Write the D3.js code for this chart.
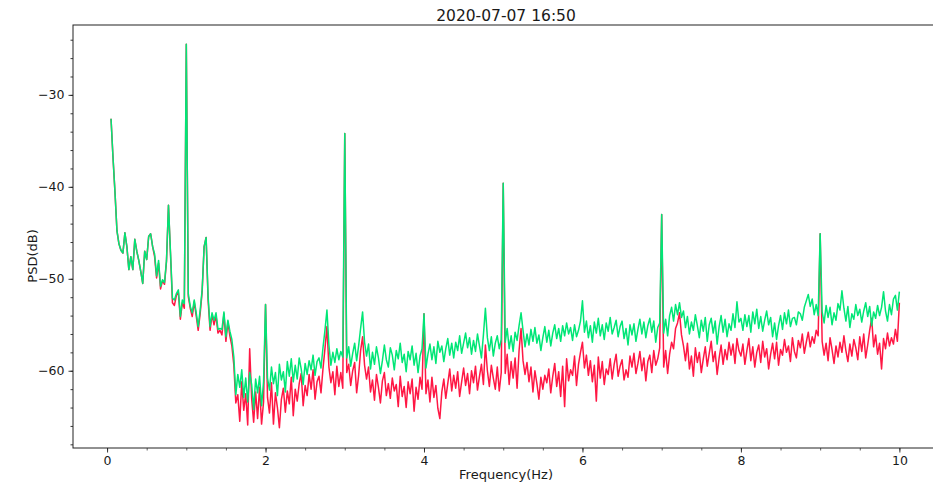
<!DOCTYPE html>
<html>
<head>
<meta charset="utf-8">
<script src="https://cdn.jsdelivr.net/npm/d3@7"></script>
<style>
  body { margin: 0; background: #fff; }
  svg { display: block; font-family: "DejaVu Sans", sans-serif; }
</style>
</head>
<body>
<svg id="chart" width="933" height="485"></svg>
<script>
// Power spectral density of two channels, 0.05–10 Hz in 0.025 Hz bins
const chartTitle = "2020-07-07 16:50";
const xLabel = "Frequency(Hz)";
const yLabel = "PSD(dB)";
const freqStart = 0.05;
const freqStep = 0.025;

const xTicks = [0, 2, 4, 6, 8, 10];
const yTicks = [-60, -50, -40, -30];

// green channel (dB)
const psdGreen = [
  // 0.05 – 0.975 Hz
  -32.6, -36.8, -40.6, -44.8, -46.2, -46.9, -47.2, -45.0, -46.5, -49.0, -47.6, -49.0, -45.7, -47.0, -48.0, -49.2, -50.5, -47.0, -47.9, -45.4,
  -45.1, -46.5, -47.3, -49.7, -48.0, -50.8, -50.1, -50.4, -48.0, -42.0, -47.0, -52.1, -52.3, -51.6, -51.2, -54.1, -52.3, -52.7,
  // 1.0 – 1.975 Hz
  -24.5, -51.6, -53.0, -53.7, -52.3, -53.7, -55.2, -53.4, -51.2, -46.5, -45.5, -51.9, -55.2, -53.7, -54.5, -53.7, -55.5, -55.4, -55.5, -53.6,
  -56.3, -54.5, -55.7, -56.6, -58.5, -62.6, -60.4, -61.8, -59.9, -62.9, -60.8, -63.4, -60.2, -61.5, -64.2, -60.9, -62.4, -60.6, -63.8, -61.2,
  // 2.0 – 2.975 Hz
  -52.8, -60.8, -62.1, -59.6, -61.4, -60.2, -62.7, -59.3, -61.0, -60.1, -62.3, -59.0, -60.6, -58.7, -61.2, -59.4, -60.9, -58.6, -59.8, -61.5,
  -59.2, -60.4, -58.9, -59.9, -58.3, -60.5, -59.0, -58.6, -59.7, -57.5, -55.6, -53.4, -57.2, -59.4, -58.0, -59.1, -57.6, -58.8, -57.9, -58.5,
  // 3.0 – 3.975 Hz
  -34.2, -58.6, -57.4, -59.5, -58.1, -57.0, -58.9, -57.3, -55.4, -53.6, -56.9, -58.4, -57.1, -59.8, -58.0, -59.3, -57.4, -58.6, -60.3, -58.9,
  -57.2, -58.8, -59.6, -57.5, -58.3, -59.9, -57.8, -58.7, -57.0, -59.1, -58.2, -60.1, -57.9, -58.8, -57.3, -59.4, -58.1, -60.2, -58.4, -57.6,
  // 4.0 – 4.975 Hz
  -53.8, -59.7, -58.2, -57.1, -58.8, -57.4, -59.2, -56.8, -58.0, -57.3, -59.0, -57.6, -56.5, -58.3, -57.0, -58.6, -56.9, -57.8, -56.2, -58.1,
  -57.0, -55.9, -57.5, -56.4, -58.2, -56.7, -57.9, -56.0, -57.3, -58.6, -56.1, -53.2, -56.4, -57.8, -56.3, -58.4, -57.0, -56.2, -57.6, -56.6,
  // 5.0 – 5.975 Hz
  -39.6, -56.9, -55.4, -57.6, -56.2, -57.9, -55.8, -56.7, -55.1, -53.7, -55.6, -57.4, -56.0, -57.2, -55.5, -56.8, -55.3, -57.0, -56.1, -57.8,
  -56.4, -55.2, -56.9, -55.6, -57.3, -55.9, -55.0, -56.5, -55.4, -56.8, -55.1, -56.2, -54.8, -56.0, -55.3, -56.7, -55.0, -56.3, -55.6, -54.6,
  // 6.0 – 6.975 Hz
  -52.4, -55.8, -54.6, -56.4, -55.1, -56.9, -54.7, -55.9, -54.3, -56.2, -55.0, -56.6, -54.8, -55.7, -54.2, -56.0, -55.3, -54.5, -56.3, -55.2,
  -54.6, -56.5, -55.4, -57.2, -55.0, -56.1, -54.9, -56.8, -55.5, -54.4, -56.0, -54.7, -56.4, -55.1, -54.3, -55.8, -54.6, -56.9, -55.3, -54.8,
  // 7.0 – 7.975 Hz
  -43.0, -55.9, -54.4, -56.2, -54.0, -53.1, -54.6, -52.8, -53.9, -52.6, -54.2, -53.5, -55.3, -54.1, -56.0, -54.7, -55.6, -53.9, -55.1, -56.4,
  -54.5, -55.7, -54.2, -56.8, -55.0, -54.3, -55.9, -54.6, -57.1, -55.2, -54.0, -55.8, -54.4, -56.3, -54.9, -55.6, -53.8, -55.3, -52.5, -54.7,
  // 8.0 – 8.975 Hz
  -54.3, -55.6, -53.9, -55.2, -54.0, -55.8, -53.6, -54.9, -53.3, -55.4, -54.1, -55.7, -54.5, -53.5, -55.0, -54.2, -56.3, -54.8, -56.6, -55.1,
  -54.0, -55.5, -53.7, -54.9, -53.4, -55.2, -54.3, -54.2, -55.0, -53.6, -53.8, -54.5, -53.1, -52.4, -51.7, -53.0, -52.2, -53.9, -52.8, -54.0,
  // 9.0 – 10.0 Hz
  -45.1, -53.6, -54.8, -52.9, -54.2, -53.1, -55.0, -53.7, -54.5, -52.7, -53.4, -51.3, -53.2, -54.6, -53.0, -55.3, -53.8, -54.4, -52.8, -54.0,
  -53.3, -54.7, -53.5, -52.6, -54.1, -53.0, -55.1, -53.6, -54.3, -52.9, -54.0, -53.1, -51.4, -53.5, -54.6, -52.8, -53.9, -52.2, -51.8, -53.4,
  -51.4
];

// red channel (dB)
const psdRed = [
  // 0.05 – 0.975 Hz
  -32.6, -36.8, -40.6, -44.8, -46.2, -46.9, -47.2, -45.0, -46.5, -49.0, -47.6, -49.0, -45.7, -47.0, -48.0, -49.2, -50.5, -47.0, -47.9, -45.4,
  -45.1, -46.5, -47.6, -49.9, -48.3, -51.1, -50.2, -50.6, -48.1, -42.0, -47.2, -52.6, -52.9, -51.8, -51.5, -54.4, -52.6, -53.2,
  // 1.0 – 1.975 Hz
  -24.5, -51.9, -53.2, -54.1, -52.5, -54.0, -55.6, -53.8, -51.4, -46.5, -45.5, -52.3, -55.6, -53.9, -55.0, -54.0, -55.9, -55.6, -56.1, -53.8,
  -56.8, -54.7, -56.2, -57.3, -59.4, -63.5, -62.6, -65.5, -61.2, -64.3, -62.5, -65.9, -57.6, -63.0, -65.6, -62.3, -65.2, -61.8, -65.8, -63.4,
  // 2.0 – 2.975 Hz
  -52.8, -62.9, -64.6, -61.3, -65.8, -62.4, -64.0, -66.2, -63.1, -61.9, -64.5, -62.2, -63.6, -60.7, -64.9, -62.0, -63.3, -61.4, -60.3, -63.8,
  -61.6, -62.7, -60.4, -62.0, -59.9, -63.1, -61.2, -60.6, -62.4, -59.8, -57.6, -55.2, -59.6, -61.3, -60.1, -62.6, -59.5, -61.7, -60.2, -61.9,
  // 3.0 – 3.975 Hz
  -34.2, -60.2, -59.3, -61.6, -60.0, -59.1, -62.4, -60.5, -57.8, -56.3, -59.4, -60.9, -59.6, -62.3, -61.0, -63.2, -60.4, -61.8, -63.5, -61.1,
  -60.2, -62.7, -61.4, -63.0, -60.8, -62.2, -61.5, -63.9, -60.6, -62.8, -61.7, -64.0, -61.2, -62.5, -60.9, -64.4, -61.8, -63.1, -60.7, -62.0,
  // 4.0 – 4.975 Hz
  -53.8, -62.5, -61.0, -63.4, -60.7, -62.9, -61.6, -64.1, -65.2, -62.3, -60.9, -63.0, -61.4, -59.8, -62.2, -60.5, -61.9, -60.1, -62.8, -61.2,
  -59.7, -61.6, -60.3, -62.5, -60.0, -61.3, -59.5, -62.1, -60.6, -59.3, -61.5, -57.2, -60.0, -61.7, -59.4, -60.8, -62.0, -59.6, -62.2, -60.2,
  // 5.0 – 5.975 Hz
  -39.6, -60.3, -58.2, -61.5, -59.0, -60.8, -58.6, -61.9, -57.8, -55.4, -58.9, -60.4, -59.1, -61.2, -59.6, -62.3, -60.0, -61.4, -63.1, -60.7,
  -62.0, -60.5, -61.3, -59.8, -62.4, -60.6, -59.2, -61.7, -60.1, -62.8, -59.5, -63.9, -58.7, -61.1, -59.9, -60.5, -58.4, -61.6, -59.3, -58.0,
  // 6.0 – 6.975 Hz
  -56.9, -59.7, -58.3, -60.5, -58.9, -61.2, -59.4, -63.3, -58.5, -60.8, -59.0, -61.5, -59.8, -60.4, -58.7, -60.9, -59.3, -58.2, -60.6, -59.5,
  -58.8, -61.0, -59.9, -60.7, -58.4, -59.6, -58.1, -60.3, -59.2, -57.9, -60.0, -58.6, -61.1, -59.0, -58.3, -60.2, -57.8, -59.4, -58.7, -57.5,
  // 7.0 – 7.975 Hz
  -43.0, -59.6, -57.8, -60.3, -58.2, -56.9, -57.6, -55.4, -54.8, -53.7, -56.1, -57.3, -58.9, -57.0, -59.8, -58.4, -60.6, -57.5, -59.1, -58.0,
  -60.2, -58.7, -57.4, -59.5, -58.1, -56.8, -59.0, -57.9, -60.4, -58.6, -57.2, -59.3, -57.7, -58.8, -56.9, -58.3, -57.1, -59.2, -56.5, -57.8,
  // 8.0 – 8.975 Hz
  -58.4, -57.1, -59.3, -57.8, -56.5, -58.9, -57.4, -59.6, -58.0, -57.2, -59.1, -56.8, -58.5, -57.6, -59.8, -58.2, -57.0, -58.7, -56.9, -59.4,
  -57.7, -58.3, -56.6, -58.0, -57.3, -59.0, -56.4, -57.9, -58.6, -56.7, -57.5, -56.0, -58.1, -56.9, -55.8, -57.4, -56.3, -57.0, -55.6, -56.2,
  // 9.0 – 10.0 Hz
  -45.1, -56.8, -58.3, -57.0, -58.9, -56.4, -57.7, -59.2, -57.3, -58.5, -56.9, -58.0, -56.2, -57.8, -59.0, -57.1, -58.4, -56.6, -57.5, -58.8,
  -56.3, -57.9, -56.0, -58.6, -57.2, -55.6, -54.3, -57.4, -56.1, -58.2, -57.0, -59.8, -56.5, -57.6, -55.9, -57.3, -56.4, -57.1, -55.5, -56.8,
  -52.6
];

const colorGreen = "#00e676";
const colorRed = "#ff1744";

const svg = d3.select("#chart");
const plot = { left: 73, right: 939, top: 25, bottom: 448 };

const x = d3.scaleLinear().domain([-0.43, 10.5]).range([plot.left, plot.right]);
const y = d3.scaleLinear().domain([-68.4, -22.4]).range([plot.bottom, plot.top]);

svg.append("rect").attr("width", 933).attr("height", 485).attr("fill", "#fff");

svg.append("defs").append("clipPath").attr("id", "plotClip")
  .append("rect")
  .attr("x", plot.left).attr("y", plot.top)
  .attr("width", plot.right - plot.left).attr("height", plot.bottom - plot.top);

const freqOf = i => freqStart + i * freqStep;
const line = d3.line()
  .x((d, i) => x(freqOf(i)))
  .y(d => y(d));

const lines = svg.append("g").attr("clip-path", "url(#plotClip)");
lines.append("path").datum(psdRed)
  .attr("d", line).attr("fill", "none")
  .attr("stroke", colorRed).attr("stroke-width", 1.5).attr("stroke-linejoin", "round");
lines.append("path").datum(psdGreen)
  .attr("d", line).attr("fill", "none")
  .attr("stroke", colorGreen).attr("stroke-width", 1.5).attr("stroke-linejoin", "round");

// axes: major ticks with labels, minor ticks without
const axisColor = "#222";
const xMinor = d3.range(0, 10.5 + 1e-9, 0.5);
const yMinor = d3.range(-68, -22, 2);

const gx = svg.append("g").attr("transform", `translate(0,${plot.bottom})`);
gx.call(d3.axisBottom(x).tickValues(xMinor).tickSize(2.5).tickFormat(""));
gx.call(g => g.selectAll(".tick").attr("class", "minor"));
gx.append("g").call(d3.axisBottom(x).tickValues(xTicks).tickSize(4.5).tickPadding(4).tickFormat(d3.format("d")));

const gy = svg.append("g").attr("transform", `translate(${plot.left},0)`);
gy.call(d3.axisLeft(y).tickValues(yMinor).tickSize(2.5).tickFormat(""));
gy.append("g").call(d3.axisLeft(y).tickValues(yTicks).tickSize(4.5).tickPadding(4).tickFormat(d3.format("d")));

svg.selectAll(".domain").remove();
svg.selectAll(".tick line").attr("stroke", axisColor).attr("stroke-width", 0.9);
svg.selectAll(".minor line").attr("stroke", axisColor).attr("stroke-width", 0.7);
svg.selectAll(".tick text")
  .attr("fill", "#1a1a1a")
  .style("font-family", "'DejaVu Sans', sans-serif")
  .style("font-size", "12.5px");

// spines
svg.append("rect")
  .attr("x", plot.left).attr("y", plot.top)
  .attr("width", plot.right - plot.left).attr("height", plot.bottom - plot.top)
  .attr("fill", "none").attr("stroke", axisColor).attr("stroke-width", 1);

// titles
svg.append("text")
  .attr("x", (plot.left + plot.right) / 2).attr("y", 21)
  .attr("text-anchor", "middle").attr("fill", "#1a1a1a")
  .style("font-size", "15.5px")
  .text(chartTitle);

svg.append("text")
  .attr("x", (plot.left + plot.right) / 2).attr("y", 479)
  .attr("text-anchor", "middle").attr("fill", "#1a1a1a")
  .style("font-size", "13px")
  .text(xLabel);

svg.append("text")
  .attr("transform", "translate(37,256) rotate(-90)")
  .attr("text-anchor", "middle").attr("fill", "#1a1a1a")
  .style("font-size", "13px")
  .text(yLabel);
</script>
</body>
</html>
